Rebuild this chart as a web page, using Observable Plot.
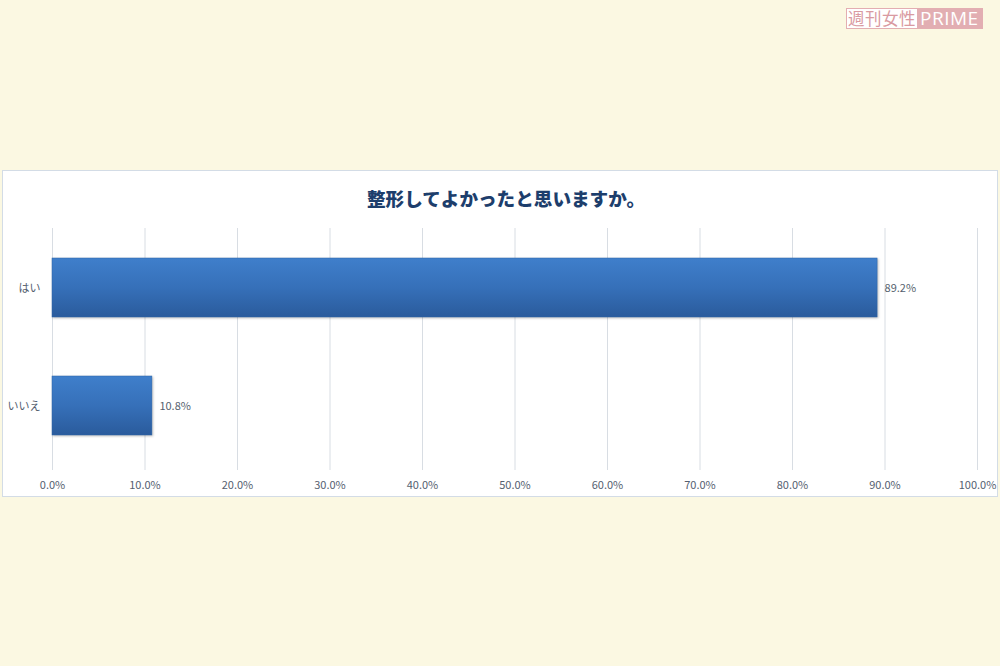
<!DOCTYPE html>
<html><head><meta charset="utf-8">
<script src="https://cdn.jsdelivr.net/npm/d3@7"></script>
<script src="https://cdn.jsdelivr.net/npm/@observablehq/plot@0.6"></script>
<style>
html,body{margin:0;padding:0;width:1000px;height:666px;overflow:hidden;background:#fbf8e2;font-family:"Noto Sans CJK JP","Noto Sans",sans-serif;}
#panel{position:absolute;left:2px;top:170px;width:994px;height:325px;background:#fff;border:1px solid #d3dce6;}
#title{position:absolute;left:0;top:184px;width:1012px;text-align:center;font-weight:900;font-size:18.6px;color:#1d3e6c;font-family:"Noto Sans CJK JP",sans-serif;letter-spacing:0px;}
#chart{position:absolute;left:0;top:218px;}
#logo{position:absolute;left:846px;top:8px;height:19px;display:flex;border:1px solid #e3aeb2;font-family:"Noto Sans CJK JP",sans-serif;}
#logo .a{background:#fff;color:#d99aa1;font-size:16.5px;line-height:19px;padding:0 1px;letter-spacing:0.5px;}
#logo .b{background:#e2aeb2;color:#fff;font-size:19px;line-height:19px;padding:0 3px;font-family:"Open Sans",sans-serif;letter-spacing:0.5px;}
.bars{filter:drop-shadow(1px 1px 1px rgba(0,0,0,0.25));}
</style></head>
<body>
<div id="logo"><span class="a">週刊女性</span><span class="b">PRIME</span></div>
<div id="panel"></div>
<div id="title">整形してよかったと思いますか。</div>
<div id="chart"></div>
<script>
const categories = ["はい", "いいえ"];
const values = [89.2, 10.8];
const tickValues = [0,10,20,30,40,50,60,70,80,90,100];
const data = categories.map((c,i)=>({cat:c, v:values[i]}));

const plot = Plot.plot({
  width: 1000,
  height: 278,
  marginLeft: 52,
  marginRight: 23,
  marginTop: 10,
  marginBottom: 26,
  style: {fontFamily: '"Noto Sans CJK JP","Noto Sans",sans-serif', fontSize: "11px", color: "#556070", background: "transparent"},
  x: {domain: [0,100], ticks: tickValues, tickFormat: d => d.toFixed(1) + "%", tickSize: 0, tickPadding: 11, label: null},
  y: {domain: categories, paddingInner: 0.5, paddingOuter: 0.27, align: 0.46, tickSize: 0, tickPadding: 12, label: null},
  marks: [
    Plot.ruleX(tickValues, {stroke: "#d8dde3", strokeWidth: 1}),
    Plot.barX(data, {y: "cat", x: "v", fill: "url(#barGrad)", stroke: "#2d64a8", strokeWidth: 0.5, className: "bars"}),
    Plot.text(data, {y: "cat", x: "v", text: d => d.v.toFixed(1) + "%", dx: 7, textAnchor: "start", fill: "#555f6e", fontSize: 11})
  ]
});
const svg = d3.select(plot);
const defs = svg.insert("defs", ":first-child");
const g = defs.append("linearGradient").attr("id","barGrad").attr("x1",0).attr("y1",0).attr("x2",0).attr("y2",1);
g.append("stop").attr("offset","0%").attr("stop-color","#3f7fcb");
g.append("stop").attr("offset","50%").attr("stop-color","#3670b9");
g.append("stop").attr("offset","100%").attr("stop-color","#2a5b9c");
document.getElementById("chart").appendChild(plot);
</script>
</body></html>
